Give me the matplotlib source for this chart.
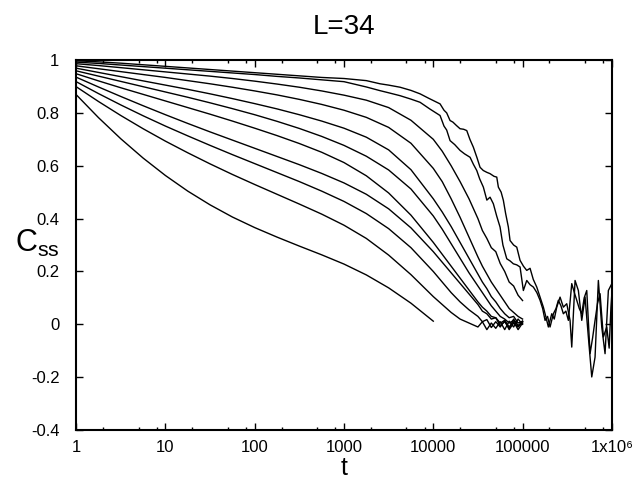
import numpy as np
import matplotlib
matplotlib.use('Agg')
import matplotlib.pyplot as plt
from matplotlib.ticker import LogLocator, FixedLocator, NullFormatter

plt.rcParams['font.family'] = ['Liberation Sans', 'DejaVu Sans']
plt.rcParams['mathtext.fontset'] = 'custom'
plt.rcParams['mathtext.rm'] = 'Liberation Sans'
plt.rcParams['mathtext.default'] = 'regular'

# DATA (x is log10 of t)
logt_grid = [0, 0.25, 0.5, 0.75, 1, 1.25, 1.5, 1.75, 2, 2.25, 2.5, 2.75, 3, 3.25, 3.5, 3.75,
             4, 4.1, 4.2, 4.3, 4.4, 4.5, 4.55, 4.6, 4.65, 4.7, 4.75, 4.8, 4.85, 4.9, 4.95, 5.0]

c3 = [0.986, 0.979, 0.971, 0.963, 0.955, 0.947, 0.939, 0.930, 0.920, 0.909, 0.897, 0.883, 0.867, 0.848, 0.820, 0.772,
      0.700, 0.655, 0.600, 0.540, 0.475, 0.400, 0.355, 0.325, 0.290, 0.275, 0.230, 0.200, 0.160, 0.145, 0.110, 0.090]
c4 = [0.978, 0.967, 0.956, 0.945, 0.934, 0.922, 0.910, 0.897, 0.883, 0.868, 0.851, 0.832, 0.810, 0.783, 0.745, 0.685,
      0.590, 0.540, 0.475, 0.405, 0.330, 0.255, 0.220, 0.190, 0.160, 0.135, 0.110, 0.085, 0.060, 0.045, 0.030, 0.020]
c5 = [0.969, 0.953, 0.937, 0.921, 0.905, 0.889, 0.872, 0.854, 0.835, 0.815, 0.793, 0.769, 0.742, 0.708, 0.660, 0.585,
      0.475, 0.425, 0.370, 0.310, 0.250, 0.190, 0.160, 0.135, 0.105, 0.085, 0.060, 0.040, 0.025, 0.030, 0.005, 0.012]
c6 = [0.959, 0.939, 0.919, 0.899, 0.879, 0.859, 0.838, 0.816, 0.793, 0.768, 0.741, 0.711, 0.677, 0.636, 0.584, 0.512,
      0.410, 0.360, 0.305, 0.250, 0.195, 0.145, 0.120, 0.095, 0.070, 0.050, 0.030, 0.020, 0.005, 0.015, -0.005, 0.005]
c7 = [0.948, 0.921, 0.895, 0.870, 0.845, 0.820, 0.795, 0.769, 0.742, 0.714, 0.684, 0.651, 0.612, 0.562, 0.497, 0.413,
      0.310, 0.265, 0.220, 0.175, 0.130, 0.085, 0.065, 0.050, 0.030, 0.025, 0.005, 0.015, -0.010, 0.010, -0.020, 0.005]
c8 = [0.935, 0.898, 0.862, 0.827, 0.793, 0.760, 0.728, 0.697, 0.666, 0.635, 0.604, 0.571, 0.535, 0.492, 0.437, 0.365,
      0.275, 0.235, 0.195, 0.155, 0.115, 0.075, 0.050, 0.040, 0.020, 0.025, -0.005, 0.010, -0.015, 0.020, -0.005, 0.012]
c9 = [0.918, 0.873, 0.830, 0.789, 0.750, 0.713, 0.677, 0.642, 0.608, 0.574, 0.540, 0.504, 0.465, 0.419, 0.362, 0.290,
      0.200, 0.160, 0.120, 0.085, 0.055, 0.030, 0.010, 0.018, -0.012, 0.010, -0.010, 0.015, -0.020, 0.005, -0.010, 0.010]
c10 = [0.899, 0.843, 0.790, 0.740, 0.693, 0.649, 0.607, 0.567, 0.529, 0.492, 0.455, 0.417, 0.375, 0.325, 0.262, 0.188,
       0.105, 0.075, 0.045, 0.020, 0.005, -0.010, 0.010, -0.020, 0.005, -0.015, 0.010, -0.020, 0.012, -0.010, 0.020, 0.000]
c11 = [0.869, 0.782, 0.702, 0.629, 0.563, 0.504, 0.452, 0.406, 0.366, 0.330, 0.296, 0.263, 0.228, 0.187, 0.138, 0.080,
       0.012]

# the two longest runs, up to t = 1e6
c1_logt = [0, 0.25, 0.5, 0.75, 1, 1.25, 1.5, 1.75, 2, 2.25, 2.5, 2.75, 3, 3.25, 3.404, 3.5, 3.628, 3.75, 3.852, 3.95,
           4.076, 4.12, 4.15, 4.188, 4.22, 4.26, 4.30, 4.34, 4.375, 4.41, 4.449, 4.49, 4.524, 4.56, 4.60, 4.636, 4.68,
           4.711, 4.729, 4.76, 4.785, 4.81, 4.841, 4.86, 4.90, 4.935, 4.972, 5.01, 5.047, 5.084, 5.12, 5.159, 5.196,
           5.233, 5.26, 5.289, 5.327, 5.355, 5.383, 5.42, 5.457, 5.495, 5.532, 5.551, 5.588, 5.625, 5.663, 5.70, 5.737,
           5.775, 5.812, 5.849, 5.887, 5.924, 5.961, 6.0]
c1 = [0.997, 0.993, 0.988, 0.982, 0.976, 0.970, 0.964, 0.958, 0.952, 0.946, 0.940, 0.934, 0.930, 0.922, 0.910, 0.905,
      0.897, 0.885, 0.872, 0.855, 0.834, 0.810, 0.800, 0.771, 0.765, 0.752, 0.740, 0.738, 0.733, 0.700, 0.670, 0.630,
      0.594, 0.582, 0.575, 0.570, 0.560, 0.557, 0.519, 0.500, 0.469, 0.420, 0.368, 0.317, 0.300, 0.292, 0.242, 0.220,
      0.204, 0.212, 0.170, 0.141, 0.103, 0.065, 0.030, -0.010, 0.040, 0.020, 0.065, 0.103, 0.065, 0.078, 0.015, -0.086,
      0.166, 0.128, 0.015, 0.103, -0.048, -0.199, -0.124, 0.166, -0.010, -0.111, 0.128, 0.154]

c2_logt = [0, 0.25, 0.5, 0.75, 1, 1.25, 1.5, 1.75, 2, 2.25, 2.5, 2.75, 3, 3.25, 3.404, 3.5, 3.628, 3.75, 3.852, 3.96,
           4.076, 4.12, 4.15, 4.188, 4.24, 4.30, 4.35, 4.412, 4.45, 4.487, 4.52, 4.561, 4.60, 4.636, 4.673, 4.71, 4.748,
           4.78, 4.823, 4.86, 4.897, 4.935, 4.972, 5.009, 5.047, 5.084, 5.121, 5.16, 5.196, 5.225, 5.252, 5.28, 5.308,
           5.345, 5.375, 5.401, 5.43, 5.457, 5.485, 5.513, 5.551, 5.58, 5.607, 5.635, 5.663, 5.69, 5.719, 5.756, 5.785,
           5.812, 5.84, 5.868, 5.905, 5.943, 5.97, 5.99, 6.0]
c2 = [0.992, 0.987, 0.981, 0.975, 0.969, 0.963, 0.957, 0.951, 0.945, 0.938, 0.932, 0.925, 0.918, 0.898, 0.884, 0.876,
      0.865, 0.852, 0.840, 0.815, 0.790, 0.750, 0.735, 0.695, 0.680, 0.658, 0.645, 0.632, 0.605, 0.582, 0.550, 0.519,
      0.470, 0.481, 0.456, 0.410, 0.368, 0.300, 0.248, 0.240, 0.229, 0.225, 0.217, 0.128, 0.166, 0.150, 0.141, 0.120,
      0.091, 0.060, 0.015, 0.030, -0.010, 0.040, 0.060, 0.091, 0.070, 0.040, 0.050, 0.015, 0.154, 0.120, 0.091, 0.060,
      0.040, 0.100, 0.128, -0.111, -0.050, 0.015, 0.080, 0.116, -0.048, -0.010, -0.090, 0.065, 0.116]

x_ticks = [1, 10, 100, 1000, 10000, 100000, 1000000]
x_tick_labels = ['1', '10', '100', '1000', '10000', '100000', '1x10\u2076']
y_ticks = [-0.4, -0.2, 0, 0.2, 0.4, 0.6, 0.8, 1]
y_tick_labels = ['-0.4', '-0.2', '0', '0.2', '0.4', '0.6', '0.8', '1']

# PLOT
fig = plt.figure(figsize=(6.4, 4.8), dpi=100)
ax = fig.add_axes([0.119, 0.104, 0.837, 0.771])

grid_t = 10 ** np.array(logt_grid)
for vals in [c3, c4, c5, c6, c7, c8, c9, c10, c11]:
    ax.plot(grid_t[:len(vals)], vals, color='black', lw=1.0)
ax.plot(10 ** np.array(c2_logt), c2, color='black', lw=1.0)
ax.plot(10 ** np.array(c1_logt), c1, color='black', lw=1.0)

ax.set_xscale('log')
ax.set_xlim(1, 1e6)
ax.set_ylim(-0.4, 1)

ax.xaxis.set_major_locator(FixedLocator(x_ticks))
ax.set_xticklabels(x_tick_labels)
ax.xaxis.set_minor_locator(LogLocator(base=10, subs=(2, 5, 8)))
ax.xaxis.set_minor_formatter(NullFormatter())
ax.set_yticks(y_ticks)
ax.set_yticklabels(y_tick_labels)

ax.tick_params(which='both', direction='in', top=True, right=True, labelsize=12, width=1)
ax.tick_params(which='major', length=5)
ax.tick_params(which='minor', length=2.5)
ax.tick_params(axis='x', which='major', pad=7)
ax.tick_params(axis='y', which='major', pad=12)
for s in ax.spines.values():
    s.set_linewidth(1.5)

ax.set_title('L=34', fontsize=20, pad=19)
ax.set_xlabel('t', fontsize=18, labelpad=1)
ax.set_ylabel('$C_{ss}$', fontsize=22, rotation=0, ha='center', va='center')
ax.yaxis.set_label_coords(-0.073, 0.505)

fig.savefig('out.png', dpi=100)
